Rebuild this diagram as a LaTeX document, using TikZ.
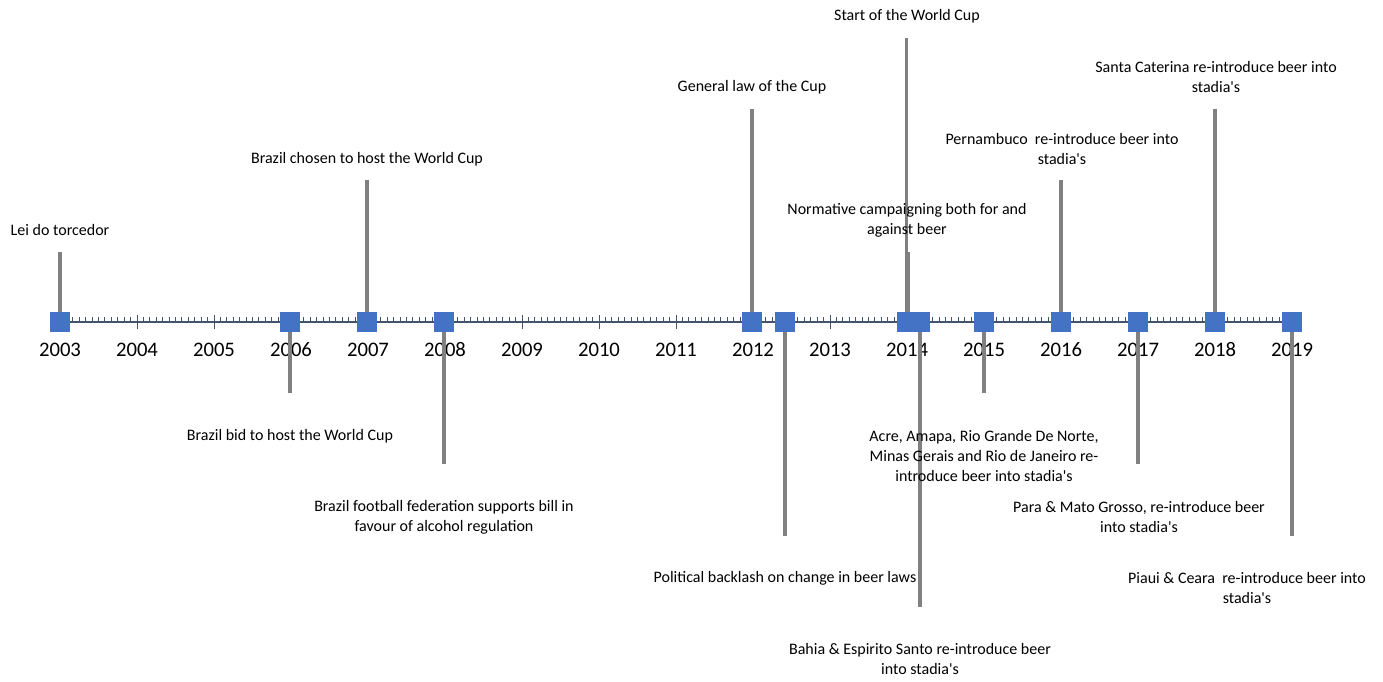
\documentclass[tikz,border=0pt]{standalone}
\usepackage{fontspec}
\setmainfont{Carlito}
\definecolor{markblue}{HTML}{4472C4}
\definecolor{stemgray}{HTML}{808080}
\definecolor{axisgray}{HTML}{44546A}
\newcommand{\apos}{\textquotesingle}

\begin{document}
\begin{tikzpicture}[x=0.75pt,y=-0.75pt,
        axisline/.style={draw=axisgray,line width=1.6pt},
        tick/.style={draw=axisgray,line width=0.7pt},
        marker/.style={fill=markblue,minimum size=14.3pt,inner sep=0pt},
        stem/.style={draw=stemgray,line width=2.4pt},
        event/.style={font=\fontsize{12}{15}\selectfont,align=center,inner sep=0pt},
        year/.style={font=\fontsize{15.5}{18}\selectfont,inner sep=0pt}]

    \fill[white] (0,0) rectangle (1383,681);
    \useasboundingbox (0,0) rectangle (1383,681);

    % axis with monthly ticks
    \coordinate (axstart) at (60,322);
    \coordinate (axend) at (1292,322);
    \foreach \m in {0,...,192}
        \draw[tick] ({60+\m*77/12},322) -- ++(0,-5);
    \draw[axisline] (axstart) -- (axend);
    \foreach \y [count=\i from 0] in {2003,...,2019} {
        \draw[tick] ({60+\i*77},315) -- ({60+\i*77},329);
        \node[year] (yr\y) at ({60+\i*77},350) {\y};
    }

    % stem ends
    \coordinate (e03) at (60,252);
    \coordinate (e06) at (290,393);
    \coordinate (e07) at (367,180);
    \coordinate (e08) at (444,464);
    \coordinate (e12a) at (752,109);
    \coordinate (e12b) at (785,536);
    \coordinate (e14a) at (906.7,38);
    \coordinate (e14b) at (908.5,252);
    \coordinate (e14c) at (920,607);
    \coordinate (e15) at (984,393);
    \coordinate (e16) at (1061,180);
    \coordinate (e17) at (1138,464);
    \coordinate (e18) at (1215,109);
    \coordinate (e19) at (1292,536);

    % markers
    \node[marker] (m03) at (60,322) {};
    \node[marker] (m06) at (290,322) {};
    \node[marker] (m07) at (367,322) {};
    \node[marker] (m08) at (444,322) {};
    \node[marker] (m12a) at (752,322) {};
    \node[marker] (m12b) at (785,322) {};
    \node[marker] (m14a) at (906.7,322) {};
    \node[marker] (m14b) at (908.5,322) {};
    \node[marker] (m14c) at (920,322) {};
    \node[marker] (m15) at (984,322) {};
    \node[marker] (m16) at (1061,322) {};
    \node[marker] (m17) at (1138,322) {};
    \node[marker] (m18) at (1215,322) {};
    \node[marker] (m19) at (1292,322) {};

    \draw[stem] (m03.north) -- (e03);
    \draw[stem] (m06.south) -- (e06);
    \draw[stem] (m07.north) -- (e07);
    \draw[stem] (m08.south) -- (e08);
    \draw[stem] (m12a.north) -- (e12a);
    \draw[stem] (m12b.south) -- (e12b);
    \draw[stem] (m14a.north) -- (e14a);
    \draw[stem] (m14b.north) -- (e14b);
    \draw[stem] (m14c.south) -- (e14c);
    \draw[stem] (m15.south) -- (e15);
    \draw[stem] (m16.north) -- (e16);
    \draw[stem] (m17.south) -- (e17);
    \draw[stem] (m18.north) -- (e18);
    \draw[stem] (m19.south) -- (e19);

    % event labels
    \node[event] (l03) at (60,230) {Lei do torcedor};
    \node[event] (l06) at (290,436) {Brazil bid to host the World Cup};
    \node[event] (l07) at (367,159) {Brazil chosen to host the World Cup};
    \node[event] (l08) at (444,517) {Brazil football federation supports bill in\\favour of alcohol regulation};
    \node[event] (l12a) at (752,87) {General law of the Cup};
    \node[event] (l12b) at (785,578) {Political backlash on change in beer laws};
    \node[event] (l14a) at (907,16) {Start of the World Cup};
    \node[event] (l14b) at (907,220) {Normative campaigning both for and\\against beer};
    \node[event] (l14c) at (920,659) {Bahia \& Espirito Santo re-introduce beer\\into stadia\apos s};
    \node[event] (l15) at (984,456) {Acre, Amapa, Rio Grande De Norte,\\Minas Gerais and Rio de Janeiro re-\\introduce beer into stadia\apos s};
    \node[event] (l16) at (1062,149) {Pernambuco\ \ re-introduce beer into\\stadia\apos s};
    \node[event] (l17) at (1139,517) {Para \& Mato Grosso, re-introduce beer\\into stadia\apos s};
    \node[event] (l18) at (1216,77.5) {Santa Caterina re-introduce beer into\\stadia\apos s};
    \node[event] (l19) at (1247,588) {Piaui \& Ceara\ \ re-introduce beer into\\stadia\apos s};
\end{tikzpicture}
\end{document}
